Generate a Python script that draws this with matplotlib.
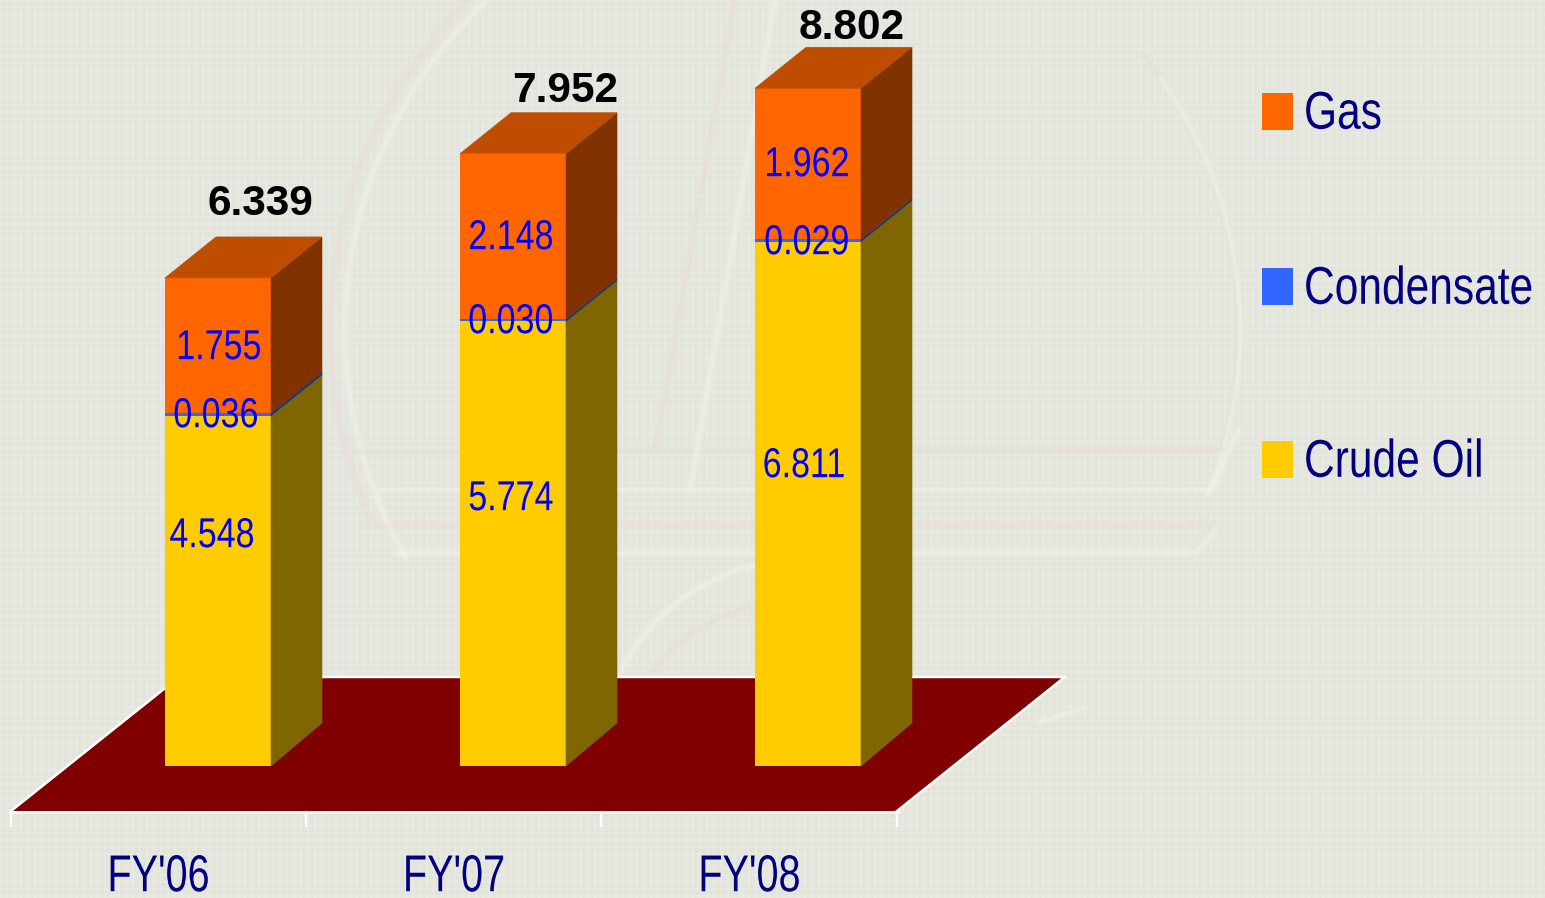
import numpy as np
import matplotlib
matplotlib.use('Agg')
import matplotlib.pyplot as plt
from matplotlib.patches import Polygon
from matplotlib.patheffects import AbstractPathEffect
from matplotlib.transforms import Affine2D

years = ["FY'06", "FY'07", "FY'08"]
crude = [4.548, 5.774, 6.811]
condensate = [0.036, 0.030, 0.029]
gas = [1.755, 2.148, 1.962]
totals = [6.339, 7.952, 8.802]
legend_names = ['Gas', 'Condensate', 'Crude Oil']

W, H = 1545, 898
BG = '#E3E4DB'
NAVY = '#000080'
VAL = '#0000FF'
FONT = 'Liberation Sans'

# one axes over the whole figure, x in categories, y in the chart's values
PX_X = 295.0
PX_Y = 77.0
BASE_X = 218.0
BASE_Y = 766.0
DX = 51 / PX_X
DY = 41 / PX_Y
DY0 = 43 / PX_Y
BAR_W = 106 / PX_X

# label spots in pixels, the 3d chart does not centre them on the segments
crude_px = [(212, 536), (511, 499), (804, 466)]
cond_px = [(216, 416), (511, 322), (807, 243)]
gas_px = [(219, 348), (511, 238), (807, 165)]
total_px = [(260, 204), (565, 91), (852, 28)]

def xp(p):
    return (np.asarray(p, dtype=float) - BASE_X) / PX_X

def yp(p):
    return (BASE_Y - np.asarray(p, dtype=float)) / PX_Y

class Tall(AbstractPathEffect):
    # narrow font is not installed, so stretch the text upward instead
    def __init__(self, sy):
        super().__init__()
        self.sy = sy

    def draw_path(self, renderer, gc, tpath, affine, rgbFace=None):
        ext = tpath.get_extents(affine)
        cy = (ext.y0 + ext.y1) / 2
        tall = Affine2D().translate(0, -cy).scale(1, self.sy).translate(0, cy)
        renderer.draw_path(gc, tpath, affine + tall, rgbFace)

fig = plt.figure(figsize=(W / 100, H / 100), dpi=100, facecolor=BG)
ax = fig.add_axes([0, 0, 1, 1])
ax.set_xlim(xp(0), xp(W))
ax.set_ylim(yp(H), yp(0))
ax.axis('off')

# paper texture
for p in np.arange(0, W, 7):
    ax.plot([xp(p), xp(p)], [yp(0), yp(H)], color='#F0F1EA', lw=1.2, alpha=.4, zorder=0)
for p in np.arange(0, H, 7):
    ax.plot([xp(0), xp(W)], [yp(p), yp(p)], color='#F0F1EA', lw=1.2, alpha=.4, zorder=0)

# faint watermark, two strokes so it looks soft
WHITE = '#F0F3EC'
PINK = '#E9DFD9'
def soft(xs, ys, color, lw):
    ax.plot(xp(xs), yp(ys), color=color, lw=lw * 2, alpha=.25, zorder=1, solid_capstyle='round')
    ax.plot(xp(xs), yp(ys), color=color, lw=lw, alpha=.45, zorder=1, solid_capstyle='round')

def arc(cx, cy, r, a0, a1, color, lw):
    t = np.radians(np.linspace(a0, a1, 120))
    soft(cx + r * np.cos(t), cy + r * np.sin(t), color, lw)

arc(790, 330, 460, 156, 226, PINK, 3)
arc(800, 330, 455, 150, 228, WHITE, 3)
arc(790, 330, 448, -38, 15, PINK, 2.5)
arc(800, 330, 440, -35, 22, WHITE, 2.5)
arc(800, 760, 200, 200, 265, WHITE, 3)
arc(800, 790, 190, 205, 265, PINK, 2.5)
soft([345, 1222], [452, 450], PINK, 2.5)
soft([380, 1212, 1238], [490, 490, 432], WHITE, 3)
soft([360, 1210], [525, 525], PINK, 2.5)
soft([395, 1195, 1216], [553, 553, 530], WHITE, 3)
soft([655, 735], [450, 0], PINK, 2.5)
soft([690, 775], [490, 0], WHITE, 3)
soft([1040, 1085], [722, 708], WHITE, 2.5)

# floor
floor = [(12, 811), (897, 811), (1063, 677), (179, 677)]
ax.add_patch(Polygon([(xp(a), yp(b)) for a, b in floor], fc='#800000', ec='none', zorder=2))
ax.plot(xp([11, 179, 1065, 897]), yp([811, 677, 677, 811]), color='white', lw=1.8, zorder=2)
ax.plot(xp([10, 898]), yp([812, 812]), color='white', lw=2, zorder=3)
for p in [10.5, 306, 601, 897]:
    ax.plot([xp(p), xp(p)], [yp(812), yp(826)], color='white', lw=1.6, zorder=3)

def darker(c, f):
    return tuple(v * f for v in matplotlib.colors.to_rgb(c))

def segment(x, y0, v, color):
    r = x + BAR_W / 2
    ax.bar(x, v, BAR_W, bottom=y0, color=color, linewidth=0, zorder=4)
    y1 = y0 + v
    d0 = DY0 if y0 == 0 else DY
    ax.add_patch(Polygon([(r, y0), (r + DX, y0 + d0), (r + DX, y1 + DY), (r, y1)],
                         fc=darker(color, .5), ec=darker(color, .5), lw=.4, zorder=4))
    return y1

def value_label(spot, val):
    ax.text(xp(spot[0]), yp(spot[1]), f'{val:.3f}', ha='center', va='center', fontsize=24.5,
            family=FONT, color=VAL, zorder=6, path_effects=[Tall(1.23)])

for i, name in enumerate(years):
    y = segment(i, 0, crude[i], '#FFCC00')
    y = segment(i, y, condensate[i], '#3366FF')
    y = segment(i, y, gas[i], '#FF6600')
    l, r = i - BAR_W / 2, i + BAR_W / 2
    ax.add_patch(Polygon([(l, y), (r, y), (r + DX, y + DY), (l + DX, y + DY)],
                         fc='#BF4D00', ec='#BF4D00', lw=.4, zorder=4))
    ax.text(xp(total_px[i][0]), yp(total_px[i][1]), f'{totals[i]:.3f}', ha='center', va='center',
            fontsize=30.5, fontweight='bold', family=FONT, color='black', zorder=6)
    value_label(crude_px[i], crude[i])
    value_label(cond_px[i], condensate[i])
    value_label(gas_px[i], gas[i])
    ax.text(xp(158.5 + i * 295.5), yp(876), name, ha='center', va='center', fontsize=28.5,
            family=FONT, color=NAVY, zorder=6, path_effects=[Tall(1.31)])

# legend
leg_colors = ['#FF6600', '#3366FF', '#FFCC00']
for name, c, p in zip(legend_names, leg_colors, [111, 286, 459]):
    ax.add_patch(Polygon([(xp(1262), yp(p - 18)), (xp(1293), yp(p - 18)),
                          (xp(1293), yp(p + 19)), (xp(1262), yp(p + 19))], fc=c, ec='none', zorder=5))
    ax.text(xp(1304), yp(p + 3), name, ha='left', va='center', fontsize=30.6,
            family=FONT, color=NAVY, zorder=6, path_effects=[Tall(1.25)])

fig.savefig('out.png', dpi=100, facecolor=BG)
